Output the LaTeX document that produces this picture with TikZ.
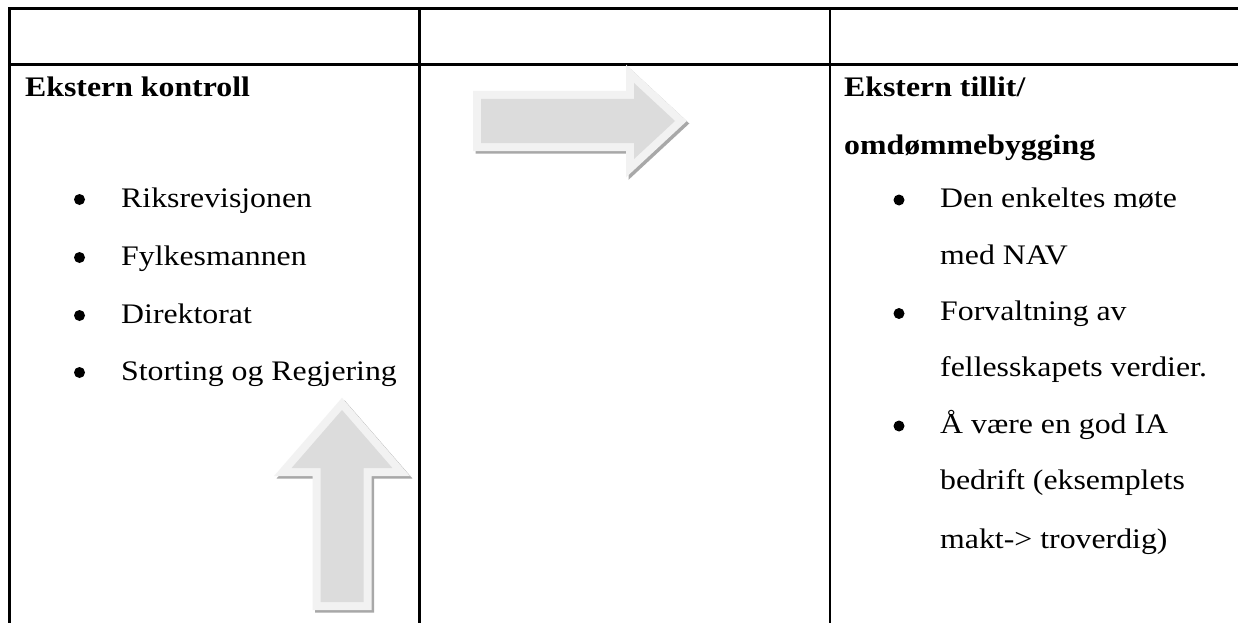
\documentclass[tikz,border=0pt]{standalone}
\usepackage{fontspec}
\setmainfont{Liberation Serif}[FakeStretch=1.124]
\definecolor{rimgray}{HTML}{F2F2F2}
\definecolor{coregray}{HTML}{DCDCDC}
\definecolor{shadegray}{HTML}{A8A8A8}
\begin{document}
\begin{tikzpicture}[x=1pt,y=-1pt,
  rule/.style={line width=2.6pt, draw=black},
  txt/.style={anchor=base west, inner sep=0pt, font=\fontsize{28.3}{34}\selectfont},
  headtxt/.style={txt, font=\fontsize{28.3}{34}\selectfont\bfseries},
  dot/.style={circle, fill=black, inner sep=0pt, minimum size=11pt},
  arrowshade/.style={draw=shadegray, fill=shadegray, line width=16pt, line join=miter, miter limit=10},
  arrowrim/.style={draw=rimgray, line width=16pt, line join=miter, miter limit=10},
  arrowcore/.style={fill=coregray}
]
\useasboundingbox[fill=white] (0,0) rectangle (1238,623);

% table rules
\draw[rule] (9.5,8.5) -- (1238,8.5);
\draw[rule] (9.5,64.5) -- (1238,64.5);
\draw[rule] (9.5,7.2) -- (9.5,623);
\draw[rule] (419.5,7.2) -- (419.5,623);
\draw[rule] (830,7.2) -- (830,623);

% left column
\node[headtxt] (hl) at (25,96) {Ekstern kontroll};
\foreach \y/\t [count=\i] in {207/Riksrevisjonen, 265/Fylkesmannen, 323/Direktorat, 380/Storting og Regjering}{
  \node[dot] (lb\i) at (79.5,\y-7.5) {};
  \node[txt] (lt\i) at (121,\y) {\t};
}

% right column
\node[headtxt] (hr1) at (844,96) {Ekstern tillit/};
\node[headtxt] (hr2) at (844,154) {omdømmebygging};
\node[dot] (rb1) at (899,200) {};
\node[txt] (rt1) at (940,207) {Den enkeltes møte};
\node[txt] (rt2) at (940,264) {med NAV};
\node[dot] (rb2) at (899,313.5) {};
\node[txt] (rt3) at (940,320) {Forvaltning av};
\node[txt] (rt4) at (940,376) {fellesskapets verdier.};
\node[dot] (rb3) at (899,426) {};
\node[txt] (rt5) at (940,433) {Å være en god IA};
\node[txt] (rt6) at (940,489) {bedrift (eksemplets};
\node[txt] (rt7) at (940,548) {makt-> troverdig)};

% block arrow pointing right
\def\harrow{(481,99) -- (634,99) -- (634,83) -- (675,121) -- (634,159) -- (634,143) -- (481,143) -- cycle}
\path[arrowshade, shift={(2.5,2.5)}] \harrow;
\path[arrowrim] \harrow;
\path[arrowcore] \harrow;

% block arrow pointing up
\def\varrow{(320.5,602) -- (320.5,468) -- (291.6,468) -- (342,410) -- (392.4,468) -- (363.5,468) -- (363.5,602) -- cycle}
\path[arrowshade, shift={(2.5,2.5)}] \varrow;
\path[arrowrim] \varrow;
\path[arrowcore] \varrow;
\end{tikzpicture}
\end{document}
